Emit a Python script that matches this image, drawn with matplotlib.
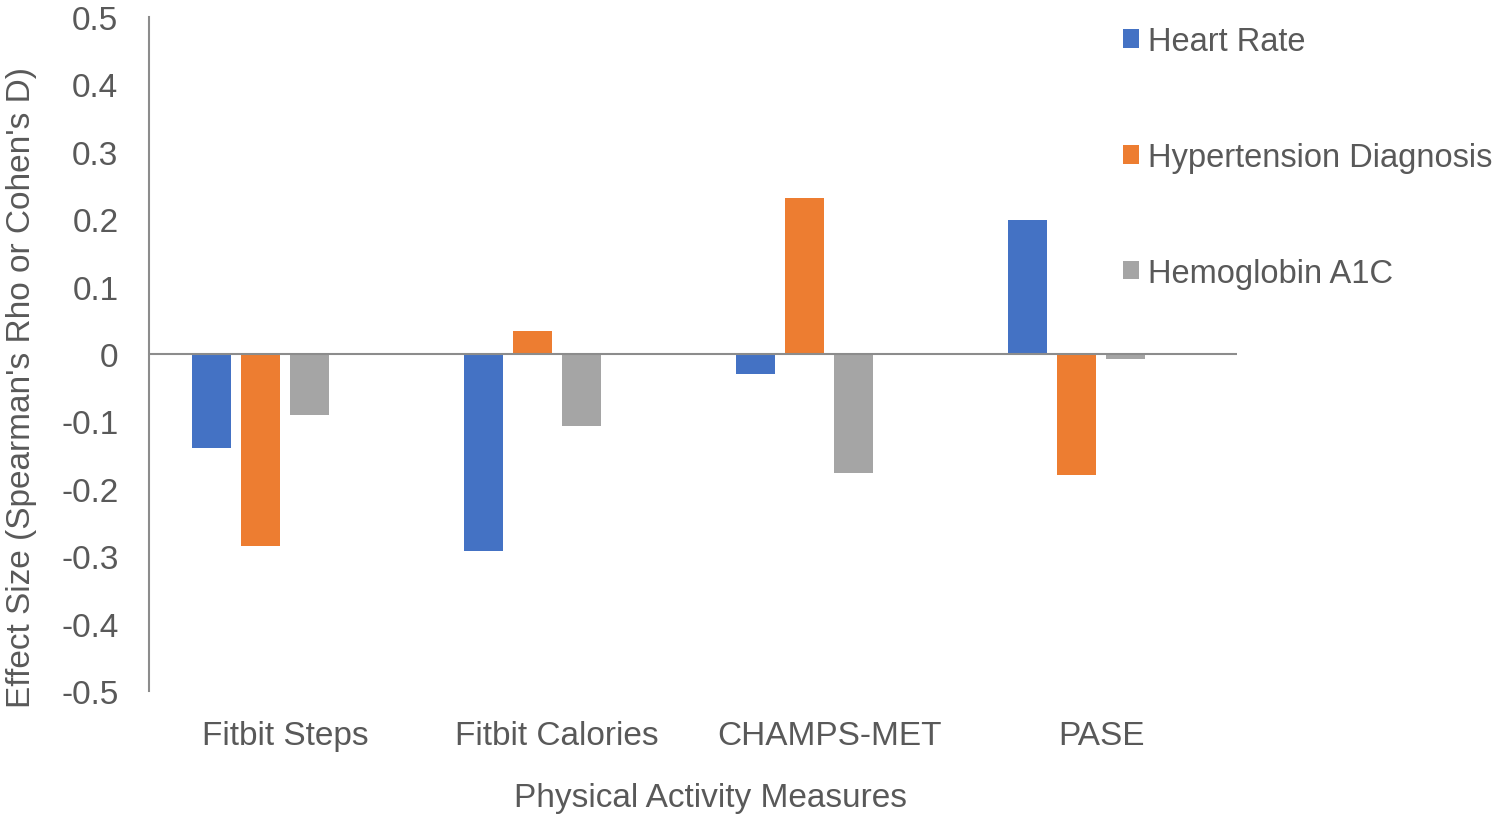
import numpy as np
import matplotlib
matplotlib.use("Agg")
import matplotlib.pyplot as plt

categories = ["Fitbit Steps", "Fitbit Calories", "CHAMPS-MET", "PASE"]
series_names = ["Heart Rate", "Hypertension Diagnosis", "Hemoglobin A1C"]
heart_rate = [-0.139, -0.292, -0.030, 0.199]
hypertension = [-0.285, 0.034, 0.231, -0.180]
hba1c = [-0.090, -0.107, -0.177, -0.007]
colors = ["#4472C4", "#ED7D31", "#A5A5A5"]

plt.rcParams["font.family"] = ["Liberation Sans", "DejaVu Sans"]
text_color = "#595959"
fs = 24

fig = plt.figure(figsize=(15, 8.2), dpi=100)
ax = fig.add_axes([0.0993, 0.156, 0.7254, 0.822])

x = np.arange(len(categories))
width = 0.143
step = 0.18
# Excel-style grouping: slot for a 4th (empty) series, so the group sits left of centre
for i, (vals, name) in enumerate(zip([heart_rate, hypertension, hba1c], series_names)):
    ax.bar(x + (i - 1.5) * step, vals, width, color=colors[i], label=name, zorder=2)

ax.set_xlim(-0.5, len(categories) - 0.5)
ax.set_ylim(-0.5, 0.5)
yt = np.round(np.arange(-0.5, 0.51, 0.1), 1)
ax.set_yticks(yt)
ax.set_yticklabels([f"{v:g}" if abs(v) > 1e-9 else "0" for v in yt])
ax.set_xticks(x)
ax.set_xticklabels(categories)
ax.axhline(0, color="#8c8c8c", lw=1.5, zorder=3)

for s in ["top", "right", "bottom"]:
    ax.spines[s].set_visible(False)
ax.spines["left"].set_color("#8c8c8c")
ax.spines["left"].set_linewidth(1.5)
ax.tick_params(axis="both", length=0, labelsize=fs, colors=text_color)
ax.tick_params(axis="y", pad=22)
ax.tick_params(axis="x", pad=21)

ax.set_xlabel("Physical Activity Measures", fontsize=fs, color=text_color)
ax.xaxis.set_label_coords(0.5165, -0.135)
ax.set_ylabel("Effect Size (Spearman's Rho or Cohen's D)", fontsize=fs, color=text_color)
ax.yaxis.set_label_coords(-0.103, 0.4525)

ax.legend(loc="upper left", bbox_to_anchor=(0.740, 0.983), bbox_transform=fig.transFigure,
          frameon=False, fontsize=23.5, labelcolor=text_color, handlelength=0.5, handleheight=0.5,
          handletextpad=0.27, labelspacing=2.6, borderaxespad=0)

fig.savefig("out.png", dpi=100)
